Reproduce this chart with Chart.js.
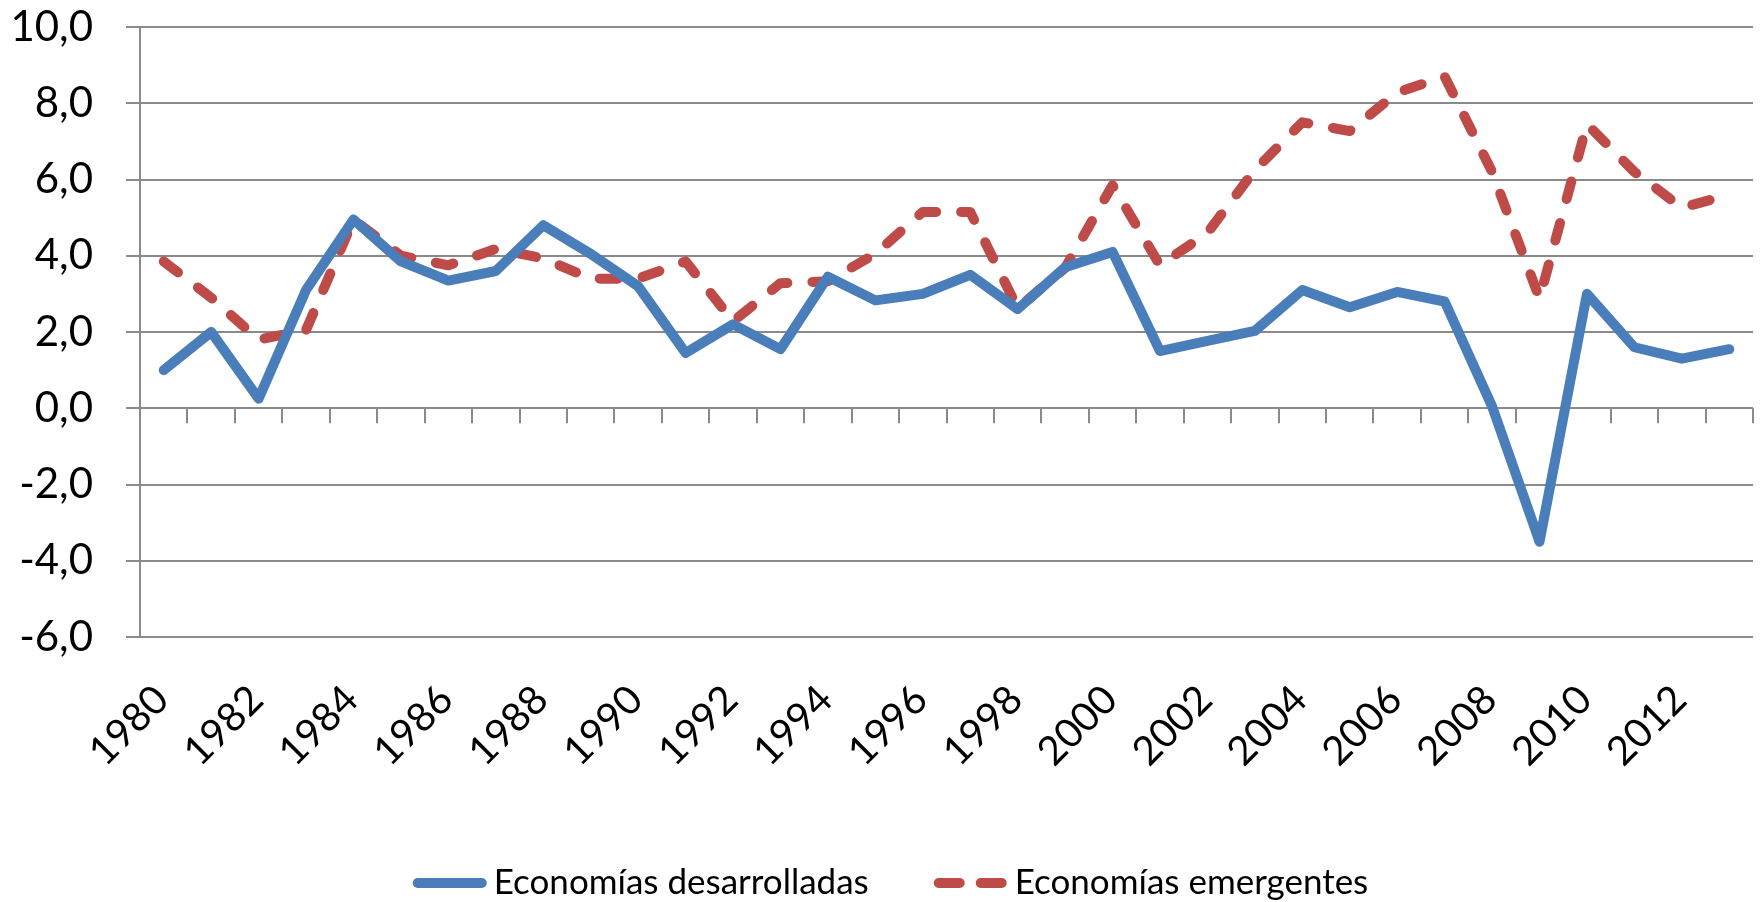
<!DOCTYPE html>
<html>
<head>
<meta charset="utf-8">
<script src="https://cdn.jsdelivr.net/npm/chart.js@4.4.1/dist/chart.umd.min.js"></script>
<style>
    html, body { margin: 0; padding: 0; background: #fff; }
    #wrap { width: 1760px; height: 902px; }
</style>
</head>
<body>
<div id="wrap"><canvas id="growthChart" width="1760" height="902"></canvas></div>
<script>
const years = ['1980', '1981', '1982', '1983', '1984', '1985', '1986', '1987', '1988', '1989',
    '1990', '1991', '1992', '1993', '1994', '1995', '1996', '1997', '1998', '1999',
    '2000', '2001', '2002', '2003', '2004', '2005', '2006', '2007', '2008', '2009',
    '2010', '2011', '2012', '2013'];

const desarrolladas = [1.0, 2.0, 0.25, 3.1, 4.95, 3.85, 3.35, 3.6, 4.8, 4.05,
    3.2, 1.45, 2.2, 1.55, 3.45, 2.83, 3.0, 3.5, 2.6, 3.7,
    4.1, 1.5, 1.77, 2.03, 3.1, 2.65, 3.05, 2.8, 0.05, -3.5,
    3.0, 1.6, 1.3, 1.55];

const emergentes = [3.85, 2.9, 1.8, 2.05, 4.95, 4.0, 3.75, 4.18, 3.93, 3.4,
    3.4, 3.85, 2.28, 3.28, 3.33, 4.05, 5.15, 5.15, 2.62, 3.68,
    5.85, 3.75, 4.6, 6.25, 7.5, 7.27, 8.28, 8.7, 6.2, 2.88,
    7.45, 6.2, 5.26, 5.6];

const seriesNames = ['Economías desarrolladas', 'Economías emergentes'];
const yMin = -6;
const yMax = 10;
const yStep = 2;

const gridColor = '#8a8a8a';
const fontFamily = 'Lato, "Open Sans", sans-serif';

// small tick marks on the zero line between categories
const zeroTicks = {
    id: 'zeroTicks',
    beforeDatasetsDraw(chart) {
        const ctx = chart.ctx;
        const x = chart.scales.x;
        const y0 = chart.scales.y.getPixelForValue(0);
        const step = x.width / years.length;
        ctx.save();
        ctx.strokeStyle = gridColor;
        ctx.lineWidth = 2;
        for (let i = 0; i <= years.length; i++) {
            const px = Math.round(x.left + i * step);
            ctx.beginPath();
            ctx.moveTo(px, y0);
            ctx.lineTo(px, y0 + 15);
            ctx.stroke();
        }
        ctx.restore();
    }
};

// legend drawn like the spreadsheet one: line sample then text
const lineLegend = {
    id: 'lineLegend',
    afterDraw(chart) {
        const ctx = chart.ctx;
        const sampleLen = 64;
        const textGap = 12;
        const itemGap = 70;
        const cy = 883;
        ctx.save();
        ctx.font = '35px ' + fontFamily;
        ctx.textBaseline = 'middle';
        const items = chart.data.datasets.map(ds => ({ ds, w: sampleLen + textGap + ctx.measureText(ds.label).width }));
        const total = items.reduce((s, it) => s + it.w, 0) + itemGap * (items.length - 1);
        let x = chart.width / 2 + 13 - total / 2;
        items.forEach(it => {
            ctx.strokeStyle = it.ds.borderColor;
            ctx.lineWidth = it.ds.borderWidth;
            ctx.lineCap = 'round';
            ctx.setLineDash(it.ds.borderDash ? [21, 21] : []);
            ctx.beginPath();
            ctx.moveTo(x, cy);
            ctx.lineTo(x + sampleLen, cy);
            ctx.stroke();
            ctx.setLineDash([]);
            ctx.fillStyle = '#000';
            ctx.fillText(it.ds.label, x + sampleLen + textGap, cy);
            x += it.w + itemGap;
        });
        ctx.restore();
    }
};

new Chart(document.getElementById('growthChart'), {
    type: 'line',
    data: {
        labels: years,
        datasets: [{
            label: seriesNames[0],
            data: desarrolladas,
            borderColor: '#4a7ebb',
            backgroundColor: '#4a7ebb',
            borderWidth: 10,
            borderCapStyle: 'round',
            borderJoinStyle: 'round',
            pointRadius: 0,
            tension: 0
        }, {
            label: seriesNames[1],
            data: emergentes,
            borderColor: '#be4b48',
            backgroundColor: '#be4b48',
            borderWidth: 10,
            borderDash: [18, 25],
            borderCapStyle: 'round',
            borderJoinStyle: 'round',
            pointRadius: 0,
            tension: 0
        }]
    },
    options: {
        responsive: false,
        animation: false,
        layout: { padding: { top: 0, right: 7, left: 0, bottom: 0 } },
        plugins: {
            legend: { display: false },
            tooltip: { enabled: false }
        },
        scales: {
            x: {
                offset: true,
                grid: { display: false, offset: true },
                border: { display: false },
                ticks: {
                    autoSkip: false,
                    maxRotation: 45,
                    minRotation: 45,
                    padding: 31,
                    labelOffset: -2,
                    color: '#000',
                    font: { family: fontFamily, size: 40 },
                    callback: function (value, index) {
                        return index % 2 === 0 ? this.getLabelForValue(value) : '';
                    }
                },
                afterFit: scale => {
                    scale.height = 265;
                    scale.paddingRight = 0;
                }
            },
            y: {
                min: yMin,
                max: yMax,
                grid: { color: gridColor, lineWidth: 2, tickLength: 14 },
                border: { display: true, color: gridColor, width: 2 },
                ticks: {
                    stepSize: yStep,
                    padding: 33,
                    color: '#000',
                    font: { family: fontFamily, size: 42 },
                    callback: value => value.toFixed(1).replace('.', ',')
                },
                afterFit: scale => {
                    scale.width = 140;
                    scale.paddingTop = 27;
                }
            }
        }
    },
    plugins: [zeroTicks, lineLegend]
});
</script>
</body>
</html>
